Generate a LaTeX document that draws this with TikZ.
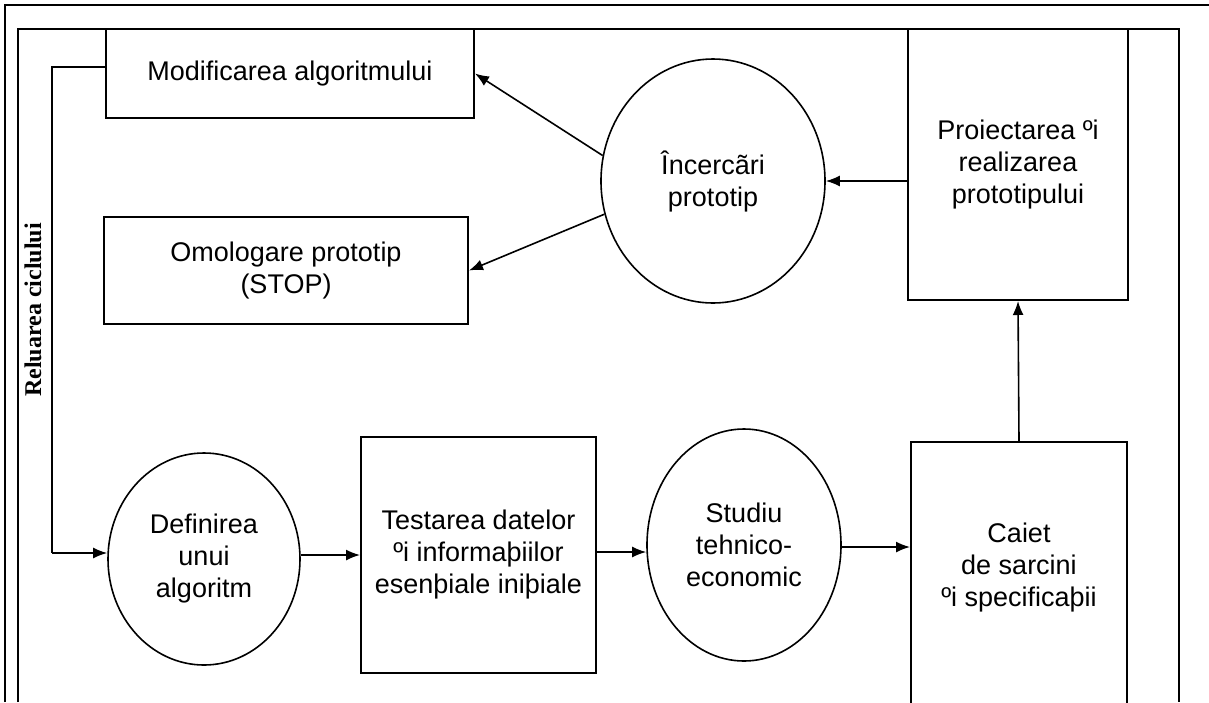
\documentclass[tikz,border=0pt]{standalone}
\usepackage{fontspec}
\setmainfont{Liberation Sans}
\newfontfamily\lserif{Liberation Serif}
\usetikzlibrary{shapes.geometric,arrows.meta}
\begin{document}
\begin{tikzpicture}[x=1pt,y=-1pt,
  box/.style={draw, line width=2pt, rectangle, inner sep=0pt},
  oval/.style={draw, line width=1.6pt, ellipse, inner sep=0pt},
  txt/.style={align=center, font=\fontsize{27}{32}\selectfont},
  arr/.style={-{Latex[length=14pt,width=11pt]}, line width=1.6pt},
  frame/.style={line width=2pt}]
\useasboundingbox (0,0) rectangle (1209,702);
\clip (0,0) rectangle (1209,702);
% frames
\draw[frame] (5,702) -- (5,5) -- (1209,5);
\draw[frame] (18,702) -- (18,29) -- (1179,29) -- (1179,702);
% nodes
\node[box, txt, minimum width=368, minimum height=89] (mod) at (290,73.5) {Modificarea algoritmului};
\node[box, txt, minimum width=364, minimum height=107] (om) at (286,270.5) {Omologare prototip\\(STOP)};
\node[oval, txt, minimum width=224, minimum height=244] (inc) at (713,181) {Încercãri\\prototip};
\node[box, txt, minimum width=220, minimum height=271] (proj) at (1018,164.5) {Proiectarea ºi\\realizarea\\prototipului};
\node[oval, txt, minimum width=192, minimum height=212] (def) at (204,559) {Definirea\\unui\\algoritm};
\node[box, txt, minimum width=235, minimum height=236] (test) at (478.5,555) {Testarea datelor\\ºi informaþiilor\\esenþiale iniþiale};
\node[oval, txt, minimum width=194, minimum height=232] (stud) at (744,545) {Studiu\\tehnico-\\economic};
\node[box, minimum width=216, minimum height=289, anchor=north] (caiet) at (1019,441) {};
\node[txt] (caiettxt) at (1019,568) {Caiet\\de sarcini\\ºi specificaþii};
\node[rotate=90, font=\lserif\bfseries\fontsize{24}{28}\selectfont] (rel) at (33,310) {Reluarea ciclului};
% connectors
\coordinate (fbtop) at (52,67);
\coordinate (fbbot) at (52,553);
\draw[arr] (proj.west |- inc.east) -- (inc.east);
\draw[arr] (inc.167) -- (mod.east);
\draw[arr] (inc.197) -- (om.east);
\draw[arr] (caiet.north) -- (proj.south);
\draw[line width=1.6pt] (mod.west |- fbtop) -- (fbtop) -- (fbbot);
\draw[arr] (fbbot) -- (def.west |- fbbot);
\draw[arr] (def.east |- test.west) -- (test.west);
\draw[arr] (test.east |- 0,552) -- (stud.west |- 0,552);
\draw[arr] (stud.east |- 0,547) -- (caiet.west |- 0,547);
\end{tikzpicture}
\end{document}
